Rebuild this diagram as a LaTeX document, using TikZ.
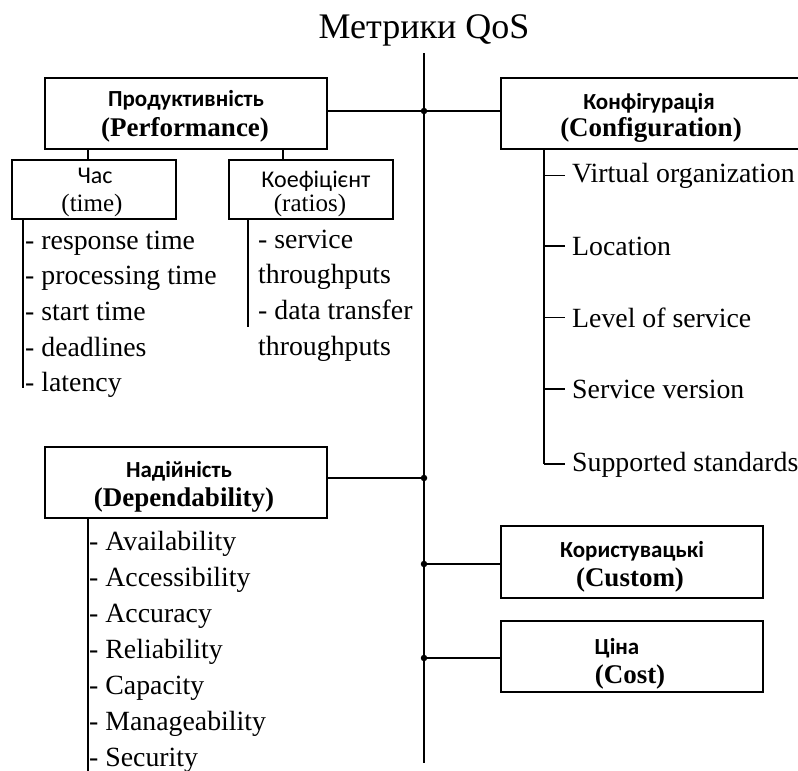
\documentclass[tikz,border=0pt]{standalone}
\usepackage{fontspec}
\setmainfont{Liberation Serif}
\newfontfamily\cyrsans{Carlito}
\begin{document}
\begin{tikzpicture}[x=1pt,y=-1pt,
  frame/.style={draw, line width=1.6pt, inner sep=0pt, anchor=north west},
  link/.style={line width=1.3pt},
  jdot/.style={circle, fill, inner sep=0pt, minimum size=6.5pt},
  cyrhead/.style={font=\cyrsans\bfseries\fontsize{23}{23}\selectfont, inner sep=0pt},
  enghead/.style={font=\bfseries\fontsize{27}{27}\selectfont, inner sep=0pt},
  subcyr/.style={font=\cyrsans\fontsize{24}{24}\selectfont, inner sep=0pt},
  subeng/.style={font=\fontsize{25}{25}\selectfont, inner sep=0pt},
  item/.style={font=\fontsize{27.8}{27.8}\selectfont, inner sep=0pt, anchor=base west},
]
\useasboundingbox (0,0) rectangle (798,771);
\begin{scope}
\clip (0,0) rectangle (798,771);

% title and trunk
\node[font=\fontsize{36}{36}\selectfont, inner sep=0pt, anchor=base] (title) at (424,38) {Метрики QoS};
\coordinate (trunktop) at (424,53);
\coordinate (trunkbot) at (424,763);
\draw[link] (trunktop) -- (trunkbot);

% junction dots on the trunk
\node[jdot] (jperf) at (424,111) {};
\node[jdot] (jdep)  at (424,478) {};
\node[jdot] (jcus)  at (424,564) {};
\node[jdot] (jcost) at (424,658) {};

% category boxes
\node[frame, minimum width=282pt, minimum height=71pt] (perf)   at (44,77)  {};
\node[frame, minimum width=330pt, minimum height=71pt] (config) at (500,77) {};
\node[frame, minimum width=282pt, minimum height=71pt] (dep)    at (44,446) {};
\node[frame, minimum width=262pt, minimum height=72pt] (custom) at (500,525) {};
\node[frame, minimum width=262pt, minimum height=71pt] (cost)   at (500,620) {};
\node[frame, minimum width=164pt, minimum height=59pt] (time)   at (11,159) {};
\node[frame, minimum width=164pt, minimum height=59pt] (ratio)  at (228,159) {};

% box captions
\node[cyrhead] (perfA) at (186,100) {Продуктивність};
\node[enghead] (perfB) at (185,130) {(Performance)};
\node[cyrhead] (cfgA)  at (649,103) {Конфігурація};
\node[enghead] (cfgB)  at (651,130) {(Configuration)};
\node[cyrhead] (depA)  at (179,471) {Надійність};
\node[enghead] (depB)  at (184,500) {(Dependability)};
\node[cyrhead] (cusA)  at (632,551) {Користувацькі};
\node[enghead] (cusB)  at (630,580) {(Custom)};
\node[cyrhead] (costA) at (617,648) {Ціна};
\node[enghead] (costB) at (630,677) {(Cost)};
\node[subcyr]  (timeA) at (95,176)  {Час};
\node[subeng]  (timeB) at (92,205)  {(time)};
\node[subcyr]  (ratA)  at (316,181) {Коефіцієнт};
\node[subeng]  (ratB)  at (310,205) {(ratios)};

% connectors from boxes to the trunk
\draw[link] (jperf -| perf.east) -- (jperf) -- (jperf -| config.west);
\draw[link] (jdep -| dep.east) -- (jdep);
\draw[link] (jcus) -- (jcus -| custom.west);
\draw[link] (jcost) -- (jcost -| cost.west);

% performance sub-boxes
\draw[link] ([xshift=44pt]perf.south west) -- ([xshift=77pt]time.north west);
\draw[link] ([xshift=239pt]perf.south west) -- ([xshift=55pt]ratio.north west);

% time list
\coordinate (timeend) at (23,388);
\draw[link] ([xshift=12pt]time.south west) -- (timeend);
\node[item] (t1) at (25,249) {- response time};
\node[item] (t2) at (25,284) {- processing time};
\node[item] (t3) at (25,320) {- start time};
\node[item] (t4) at (25,356) {- deadlines};
\node[item] (t5) at (25,391) {- latency};

% ratios list
\coordinate (ratend) at (248,327);
\draw[link] ([xshift=20pt]ratio.south west) -- (ratend);
\node[item] (r1) at (258,248) {- service};
\node[item] (r2) at (258,283) {throughputs};
\node[item] (r3) at (258,319) {- data transfer};
\node[item] (r4) at (258,355) {throughputs};

% configuration list
\node[item] (c1) at (572,182) {Virtual organization};
\node[item] (c2) at (572,255) {Location};
\node[item] (c3) at (572,327) {Level of service};
\node[item] (c4) at (572,398) {Service version};
\node[item] (c5) at (572,471) {Supported standards};
\coordinate (cfgend) at (544,464);
\draw[link] ([xshift=44pt]config.south west) -- (cfgend);
\foreach \k in {c1,c2,c3,c4}
  \draw[link] ([xshift=-28pt]\k.west) -- ([xshift=-7pt]\k.west);
\draw[link] (cfgend) -- ([xshift=-7pt]c5.west |- cfgend);

% dependability list
\coordinate (depend) at (88,771);
\draw[link] ([xshift=44pt]dep.south west) -- (depend);
\node[item] (d1) at (89,550) {- Availability};
\node[item] (d2) at (89,586) {- Accessibility};
\node[item] (d3) at (89,622) {- Accuracy};
\node[item] (d4) at (89,658) {- Reliability};
\node[item] (d5) at (89,694) {- Capacity};
\node[item] (d6) at (89,730) {- Manageability};
\node[item] (d7) at (89,766) {- Security};
\end{scope}
\end{tikzpicture}
\end{document}
